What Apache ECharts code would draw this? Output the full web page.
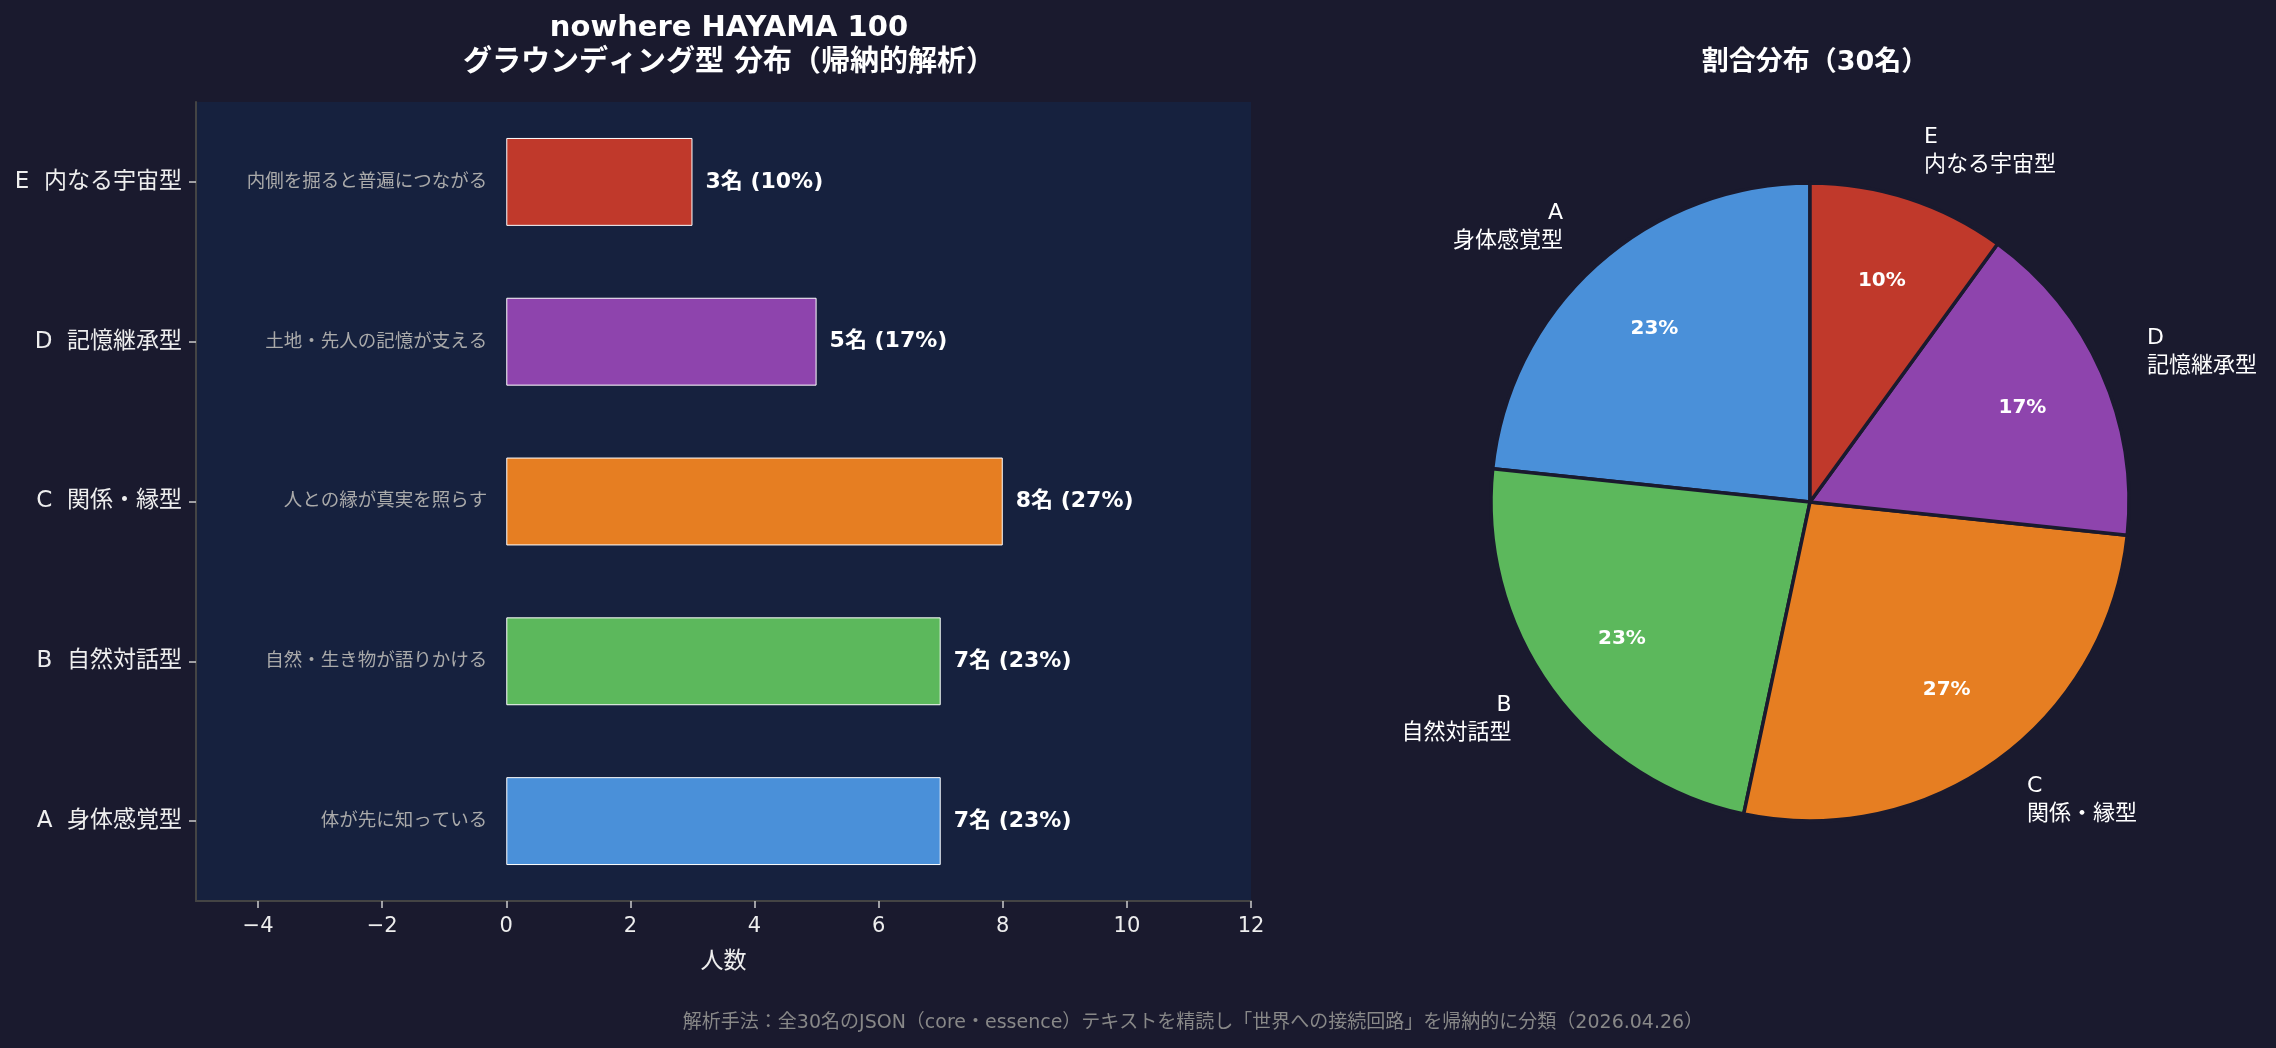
<!DOCTYPE html>
<html>
<head>
    <meta charset="utf-8">
    <title>nowhere HAYAMA 100</title>
    <script src="https://cdn.jsdelivr.net/npm/echarts@6/dist/echarts.min.js"></script>
    <style>
        *{ margin: 0; padding: 0; }
        html,body{ width: 100%; height: 100%; overflow: hidden; background: #1a1a2e; }
        .container{ width: 2276px; height: 1048px; }
    </style>
</head>
<body>
<div class="container"></div>
<script>
    // data (bottom -> top, same order as the pie)
    const codes = ['A', 'B', 'C', 'D', 'E'];
    const names = ['身体感覚型', '自然対話型', '関係・縁型', '記憶継承型', '内なる宇宙型'];
    const descriptions = ['体が先に知っている', '自然・生き物が語りかける', '人との縁が真実を照らす', '土地・先人の記憶が支える', '内側を掘ると普遍につながる'];
    const counts = [7, 7, 8, 5, 3];
    const colors = ['#4a90d9', '#5cb85c', '#e67e22', '#8e44ad', '#c0392b'];
    const xTicks = [-4, -2, 0, 2, 4, 6, 8, 10, 12];
    const total = counts.reduce((a, b) => a + b, 0);

    const font = '"DejaVu Sans", "Noto Sans CJK JP", sans-serif';
    const pct = v => Math.round(v / total * 100);

    let chart = echarts.init(document.getElementsByClassName('container')[0]);

    let option = {
        backgroundColor: '#1a1a2e',
        textStyle: { fontFamily: font },
        title: [{
            text: 'nowhere HAYAMA 100\nグラウンディング型 分布（帰納的解析）',
            left: 724, top: 6, textAlign: 'center',
            textStyle: { color: '#ffffff', fontSize: 29, fontWeight: 'bold', lineHeight: 35, fontFamily: font }
        }, {
            text: '割合分布（30名）',
            left: 1810, top: 44, textAlign: 'center',
            textStyle: { color: '#ffffff', fontSize: 27, fontWeight: 'bold', fontFamily: font }
        }, {
            text: '解析手法：全30名のJSON（core・essence）テキストを精読し「世界への接続回路」を帰納的に分類（2026.04.26）',
            left: 1188, top: 1009, textAlign: 'center',
            textStyle: { color: '#888888', fontSize: 19, fontWeight: 'normal', fontFamily: font }
        }],
        grid: {
            left: 196, right: 1025, top: 102, bottom: 147,
            show: true, backgroundColor: '#16213e', borderWidth: 0
        },
        xAxis: {
            type: 'value', min: -5, max: 12,
            name: '人数', nameLocation: 'middle', nameGap: 50,
            nameTextStyle: { color: '#eeeeee', fontSize: 23 },
            axisLine: { show: true, lineStyle: { color: '#444444', width: 2 } },
            axisTick: { show: true, length: 7, customValues: xTicks, lineStyle: { color: '#cccccc', width: 1.5 } },
            axisLabel: { customValues: xTicks, color: '#eeeeee', fontSize: 21, margin: 15,
                formatter: v => (v < 0 ? '\u2212' + (-v) : '' + v) },
            splitLine: { show: false }
        },
        yAxis: {
            type: 'category',
            data: codes.map((c, i) => c + '  ' + names[i]),
            axisLine: { show: true, onZero: false, lineStyle: { color: '#444444', width: 2 } },
            axisTick: { show: true, alignWithLabel: true, length: 7, lineStyle: { color: '#cccccc', width: 1.5 } },
            axisLabel: { color: '#eeeeee', fontSize: 23, margin: 14 },
            splitLine: { show: false }
        },
        series: [{
            type: 'bar',
            barWidth: '55%',
            data: counts.map((v, i) => ({
                value: v,
                itemStyle: { color: colors[i], borderColor: '#ffffff', borderWidth: 1 }
            })),
            label: {
                show: true, position: 'right', distance: 13,
                color: '#ffffff', fontSize: 22, fontWeight: 'bold',
                formatter: p => p.value + '名 (' + pct(p.value) + '%)'
            },
            z: 3
        }, {
            // descriptions placed left of each bar
            type: 'bar',
            barWidth: '55%',
            barGap: '-100%',
            silent: true,
            data: counts,
            itemStyle: { color: 'rgba(0,0,0,0)', borderWidth: 0 },
            label: {
                show: true, position: 'left', distance: 19,
                color: '#aaaaaa', fontSize: 18.5,
                formatter: p => descriptions[p.dataIndex]
            },
            z: 2
        }, {
            type: 'pie',
            center: [1810, 502],
            radius: [0, 319],
            startAngle: 90,
            clockwise: false,
            avoidLabelOverlap: false,
            data: counts.map((v, i) => ({ value: v, name: codes[i] + '\n' + names[i], itemStyle: { color: colors[i] } })),
            itemStyle: { borderColor: '#1a1a2e', borderWidth: 3.5 },
            label: {
                show: true, position: 'outside', color: '#ffffff', fontSize: 22, lineHeight: 28,
                distanceToLabelLine: 0, formatter: '{b}'
            },
            labelLine: { show: false, length: 50, length2: 0 },
            emphasis: { disabled: true }
        }, {
            // percentage labels at ~0.72 r
            type: 'pie',
            center: [1810, 502],
            radius: [140, 319],
            startAngle: 90,
            clockwise: false,
            silent: true,
            data: counts.map((v, i) => ({ value: v, name: codes[i] })),
            itemStyle: { color: 'rgba(0,0,0,0)', borderWidth: 0 },
            label: {
                show: true, position: 'inside', color: '#ffffff', fontSize: 20, fontWeight: 'bold',
                formatter: p => pct(p.value) + '%'
            },
            labelLine: { show: false },
            emphasis: { disabled: true }
        }]
    };
    chart.setOption(option);
</script>
</body>
</html>
